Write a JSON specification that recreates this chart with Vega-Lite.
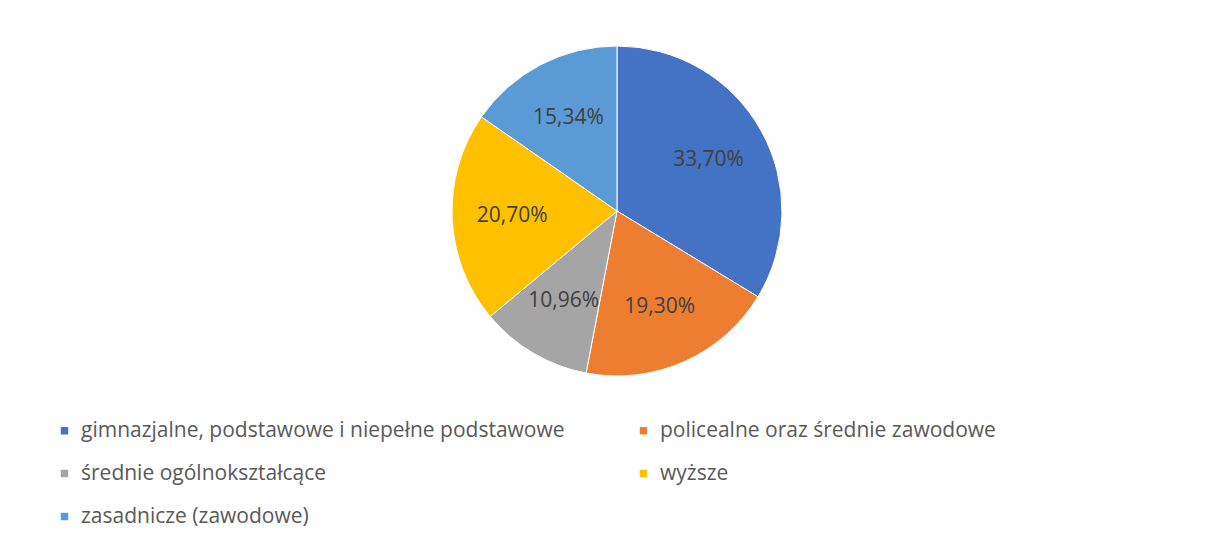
{
  "$schema": "https://vega.github.io/schema/vega-lite/v6.json",
  "width": 1194,
  "height": 330,
  "padding": {"left": 20, "top": 44, "right": 0, "bottom": 0},
  "autosize": {"type": "pad"},
  "background": "#ffffff",
  "config": {
    "view": {"stroke": null},
    "font": "Open Sans",
    "locale": {"number": {"decimal": ",", "thousands": " ", "grouping": [3], "currency": ["", " zł"]}}
  },
  "data": {
    "values": [
      {"kategoria": "gimnazjalne, podstawowe i niepełne podstawowe", "udzial": 0.3370, "kolejnosc": 1},
      {"kategoria": "policealne oraz średnie zawodowe", "udzial": 0.1930, "kolejnosc": 2},
      {"kategoria": "średnie ogólnokształcące", "udzial": 0.1096, "kolejnosc": 3},
      {"kategoria": "wyższe", "udzial": 0.2070, "kolejnosc": 4},
      {"kategoria": "zasadnicze (zawodowe)", "udzial": 0.1534, "kolejnosc": 5}
    ]
  },
  "encoding": {
    "theta": {"field": "udzial", "type": "quantitative", "stack": true},
    "order": {"field": "kolejnosc", "type": "quantitative"},
    "color": {
      "field": "kategoria",
      "type": "nominal",
      "scale": {
        "domain": ["gimnazjalne, podstawowe i niepełne podstawowe", "policealne oraz średnie zawodowe", "średnie ogólnokształcące", "wyższe", "zasadnicze (zawodowe)"],
        "range": ["#4472C4", "#ED7D31", "#A5A5A5", "#FFC000", "#5B9BD5"]
      },
      "legend": {
        "title": null,
        "orient": "none",
        "legendX": 34,
        "legendY": 374,
        "direction": "horizontal",
        "columns": 2,
        "columnPadding": 68,
        "rowPadding": 21,
        "symbolType": "square",
        "symbolSize": 55,
        "symbolStrokeWidth": 0,
        "labelFontSize": 21,
        "labelColor": "#595959",
        "labelLimit": 700,
        "labelOffset": 6
      }
    }
  },
  "layer": [
    {
      "mark": {"type": "arc", "outerRadius": 165, "stroke": "#ffffff", "strokeWidth": 1}
    },
    {
      "mark": {"type": "text", "radius": 105, "fontSize": 21, "fill": "#404040"},
      "encoding": {
        "text": {"field": "udzial", "type": "quantitative", "format": ".2%"}
      }
    }
  ]
}
